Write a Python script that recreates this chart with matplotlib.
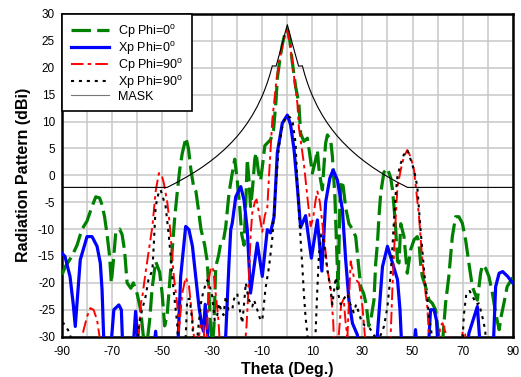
import matplotlib
matplotlib.use("Agg")
import matplotlib.pyplot as plt

plt.rcParams['font.family'] = ['Liberation Sans', 'DejaVu Sans']
plt.rcParams['lines.scale_dashes'] = False
plt.rcParams['axes.unicode_minus'] = False

# ---------------- data ----------------
cp0_theta = [-90, -88.7, -86, -84, -82, -80, -78, -76.5, -75, -74, -73, -72, -71, -70.3, -69.5,
             -68.5, -67, -66, -65, -64, -62.5, -61.5, -60, -58.6, -57.5, -56.5, -55, -54, -52.6,
             -51, -50, -49, -48, -47, -46, -45, -44, -43, -42, -40.5, -39.5, -38.5, -37.3, -36.5,
             -35.5, -34.5, -33, -32, -31.5, -30.6, -29.8, -29.3, -28.6, -27.5, -26.6, -25.5, -24.6,
             -23.3, -22, -21, -20, -19, -18.2, -17.3, -16.5, -16, -15.3, -14.7, -14, -13, -12.5,
             -11.5, -10.7, -10, -9, -8, -6.7, -5.5, -4.5, -4, -3, -2, -1, 0, 1, 2, 3.3, 4.6, 5.3,
             6.6, 8, 8.9, 10, 11.3, 12, 12.6, 13.3, 14, 14.6, 15.3, 16, 17.3, 18, 19, 19.8, 20.3,
             21, 21.5, 22.3, 23.3, 24.6, 26, 27.3, 28.3, 29.3, 30.5, 31.5, 32.5, 33.3, 34.6, 35.3,
             36, 36.6, 37.3, 38.6, 40, 41.3, 42, 42.6, 43.3, 44, 44.6, 45.3, 46.6, 47.9, 49.2, 50.6,
             51.9, 52.6, 53.2, 53.9, 55.2, 56.6, 57.9, 59.2, 60.5, 61.5, 62.5, 63.2, 64.5, 65.9, 67.2,
             68.5, 69.9, 71.2, 72.5, 73.9, 75.9, 77.2, 77.9, 79.2, 80.5, 81.9, 83.2, 84.6, 85.5, 86.5,
             87.8, 90]
cp0_db = [-18.5, -17, -15, -13, -10, -8.5, -5.8, -4, -4.2, -5.5, -7.7, -11, -15, -20, -16,
          -10.5, -10, -11, -14, -20, -21, -20, -22, -25, -30, -33, -27, -21, -16,
          -18, -22, -28, -26, -20, -14, -8, -3.3, 1, 4, 7, 5, 1, -2.5, -3,
          -6.4, -10, -13, -16, -20, -29, -31, -28, -17, -15, -12.6, -12, -9.6,
          -3.3, 0.4, 3, -1, -6, -11, -13, -4, 3, -1, -5.8, -3, 3, 4.2,
          0.5, -1, 1.5, 5.5, 6, 6.6, 8.5, 14, 18, 21.5, 24.3, 26.3, 27.2, 25, 21, 16.5, 13.4, 7.8,
          6.3, 6.9, 4.1, 0.4, 2.9, 4.7, 1.3, -0.9, -2.7, 1.6, 6, 7.5, 6.6, 3.5, -4, -15, -21,
          -5, -1, -2, -6, -9, -10, -11.4, -16, -20.7, -22, -24, -28, -27, -23.2, -16.3,
          -12.6, -7.7, -3.3, 0.6, 1.3, -0.5, -2.7, -5.8, -10.1, -16, -16.3, -9, -11.4, -18.2, -13.9, -12,
          -11.4, -12.6, -16.3, -18.8, -20.7, -23.2, -23.8, -25, -30, -34, -28, -23.8, -18.8, -11.4, -7.7,
          -7.7, -8.9, -12, -16.3, -20.7, -23.2, -18.2, -16.7, -17.3, -18.8, -21.9, -25.6, -28.7, -26, -23.8,
          -20.7, -19]

xp0_theta = [-90, -88.8, -86.8, -85.5, -84.7, -82.7, -80, -78, -76, -74.7, -74, -73, -71, -69.3,
             -67.3, -66.3, -65.5, -62, -60.6, -59, -54, -52.6, -51.5, -44, -42.6, -40.6, -39.3,
             -37.9, -36.6, -35.3, -34.3, -33.5, -32.8, -32, -31.5, -25.5, -24.6, -23.3, -22.6, -22,
             -20.6, -18.6, -17.3, -16, -14.7, -12, -10, -8, -6.7, -5.3, -4, -2, 0, 1.3, 2.7, 4,
             5.3, 7.3, 9.6, 12, 13.8, 15.3, 17, 18.3, 20, 22, 23.3, 24.6, 26, 28, 29, 35.3, 36, 38,
             40, 42, 44, 45, 46, 50, 51.2, 52.3, 56, 57.2, 58.6, 59.6, 60.5, 71.5, 72.5, 75.9, 77.5,
             82, 83.2, 84.6, 86, 88, 90]
xp0_db = [-14.5, -15.1, -18.8, -24, -28.1, -15.7, -11.4, -11.4, -13.2, -16.3, -21.3, -35, -35, -25,
          -24.1, -25, -35, -35, -25.3, -35, -35, -29, -35, -35, -18.8, -9.5, -10.1,
          -13.2, -18.8, -24.4, -27.5, -29, -24, -28, -35, -35, -29.7, -16.3, -10.1, -8.9,
          -4, -2.1, -4.6, -10.1, -21.9, -12.6, -18.8, -10.1, -10.7, -7.7, 4.2, 9.7, 11.2, 9.4, 4.7, -2.1,
          -9.7, -7.5, -15.4, -8.3, -17.8, -5, -0.5, 1, -0.9, -6.4, -15.7, -23.2, -27.5, -29.7, -35, -35, -29.4, -17,
          -13.2, -16.3, -19.4, -25, -35, -35, -28.7, -35, -35, -25, -25, -27, -35, -35, -29.4, -24.4, -35,
          -35, -20.7, -18.2, -17.9, -18.8, -20]

cp90_theta = [-90, -83, -81.5, -80, -78.7, -77.4, -76, -75, -74, -60, -58.6, -57.9, -56.6, -55.3,
              -53.9, -52.6, -51.3, -50.3, -49.3, -47.9, -47.3, -46.6, -46, -45.3, -44, -43.3, -42,
              -40.6, -39.3, -38.3, -37.3, -36.3, -35.3, -34.5, -33.5, -32.5, -31.4, -30.5, -29.6,
              -28.6, -27.5, -26.5, -17.5, -16.3, -15.5, -14.7, -14, -13, -12.3, -11.3, -10, -9, -8,
              -7.3, -6, -4.5, -3.4, -2, -1, 0, 1.3, 2.7, 4, 4.6, 5.3, 6.6, 7.3, 8, 9.3, 10.3, 11.3,
              12, 13, 14, 15, 16, 17.3, 18.3, 19, 20.5, 21.5, 22.5, 23.3, 24, 25.3, 26.6, 27.5, 28.6,
              30, 31, 32, 40.6, 41.3, 42, 42.6, 43.3, 44, 45.3, 46.6, 47.9, 49.2, 50.6, 51.6, 52.6,
              53.2, 53.9, 54.6, 55.2, 55.9, 56.6, 57.5, 60.3, 61, 62, 63, 64, 65, 69, 70, 71, 72, 90]
cp90_db = [-35, -35, -29, -26.3, -24.7, -25, -26.9, -30, -35, -35, -24, -22.5, -18, -13.9,
           -9.5, -3, 0.4, 0.2, -1.5, -5.2, -7.7, -11, -15.1, -19, -23.8, -29, -22,
           -19, -20.5, -25, -30, -35, -30, -27.5, -28, -35, -19.5, -17, -17.5,
           -22, -27, -35, -35, -28, -21, -11.4, -7, -5, -4.5, -7, -10.5, -7.5, -6,
           0, 10.3, 17, 20.8, 24, 26.3, 27, 23.5, 18.3, 13.4, 9, 6.6, 2.2, -0.9, -4, -9.5, -8, -4.6,
           -3, -5, -9, -13, -17.5, -21, -27, -35, -30, -24, -23, -27.5, -30, -16, -19, -19.5, -20,
           -24.4, -30, -35, -35, -29.4, -20.7, -14.5, -7.7, -2.1, 1, 3.5, 4.7, 3.5, 1, -3.3, -7.7,
           -11.4, -15.7, -18.8, -21.9, -24.4, -30, -35, -35, -28, -27.5, -29, -30, -35, -35, -29, -29.5, -35, -35]

xp90_theta = [-90, -89.4, -88, -86.7, -86, -60.5, -59.4, -58, -56.6, -55.5, -53.9, -53.3, -52.6,
              -51.3, -50.6, -48.6, -47.3, -46.6, -46, -45.3, -44.6, -44, -43.3, -41, -40, -39, -38,
              -37, -35.5, -34.6, -33.5, -32, -31, -30, -29, -28, -27.3, -26.5, -25.5, -24.6, -23.5,
              -22, -21.3, -20, -19, -18, -17.3, -16.6, -15.5, -14, -13.3, -12, -10.7, -10, -8.7,
              -7.3, -6, -4.6, -3.4, -2, -1, 0, 1, 2, 3.3, 4, 4.6, 5.3, 6, 6.6, 7.3, 8, 9, 10.5, 11.3,
              12, 12.6, 13.5, 14.2, 15, 16, 17.3, 18, 19.3, 20.3, 21.3, 22.5, 24, 25, 26.5, 27.5, 28.6,
              29.5, 31, 33, 35, 37, 38.6, 40, 41.3, 42, 42.6, 43.3, 44, 45.3, 46.5, 47.9, 49.2, 50.6,
              51.9, 52.6, 53.2, 53.9, 54.6, 55.2, 55.9, 56.6, 57.5, 58.5, 69.5, 70.5, 71.5, 72.8, 74,
              75.5, 76.5, 77.9, 79, 80, 90]
xp90_db = [-27.5, -27.5, -28.5, -29.4, -35, -35, -28, -25, -22.5, -19.5, -17.6, -12.6, -5.8,
           -3, -2.7, -5.8, -11.4, -15, -18.8, -22, -25, -27.5, -35, -35, -23, -23, -27,
           -35, -28, -24, -21.5, -19.5, -20.5, -22.5, -27, -26, -23.8, -25, -26, -22.5, -25,
           -25, -23, -22, -25, -27.5, -24, -20, -23, -24.4, -23.2, -25, -27, -26.9, -21,
           -17, -11.7, -2, 5.3, 9, 10.5, 11, 10.8, 10.3, 6, -1.5, -6.4, -12, -17, -21.9, -26.5, -29.5, -35, -35, -29,
           -21, -15, -11, -11.5, -14, -17.6, -21.3, -24, -19, -22, -24, -23, -22, -23.8, -25.5, -24, -25.6,
           -27, -28, -28.5, -30, -30, -28.1, -24.4, -18.2, -13.2, -8.3, -3.3, -0.2, 2.2, 3.8, 4.7, 3, 1,
           -2.1, -6.4, -10.1, -13.9, -17.6, -20.7, -23, -26.3, -29, -35, -35, -26, -22, -21.5, -22.5,
           -24, -23.8, -26.3, -28.7, -35, -35]

mask_theta = [-90, -48, -44, -40, -37, -34, -31, -28, -25, -22, -20, -18, -16, -14, -12, -10,
              -9, -8, -7, -6, -4.5, -3, -2, -1, 0, 1, 2, 3, 4.5, 6, 7, 8, 9, 10, 12, 14, 16,
              18, 20, 22, 25, 28, 31, 34, 37, 40, 44, 48, 90]
mask_db = [-2.25, -2.25, -1.29, -0.25, 0.6, 1.51, 2.52, 3.62, 4.85, 6.24, 7.27, 8.42, 9.7, 11.15,
           12.82, 14.8, 15.94, 17.22, 18.67, 20.35, 20.3, 22.8, 24.5, 26.3, 28, 26.3, 24.5, 22.8,
           20.3, 20.35, 18.67, 17.22, 15.94, 14.8, 12.82, 11.15, 9.7, 8.42, 7.27, 6.24, 4.85,
           3.62, 2.52, 1.51, 0.6, -0.25, -1.29, -2.25, -2.25]

x_ticks = [-90, -70, -50, -30, -10, 10, 30, 50, 70, 90]
y_ticks = [30, 25, 20, 15, 10, 5, 0, -5, -10, -15, -20, -25, -30]

deg = r'$^\mathregular{o}$'
labels = ['Cp Phi=0' + deg, 'Xp Phi=0' + deg, 'Cp Phi=90' + deg, 'Xp Phi=90' + deg, 'MASK']

# ---------------- figure ----------------
fig = plt.figure(figsize=(5.21, 3.77), dpi=100)
ax = fig.add_axes([0.119, 0.107, 0.865, 0.856])

ax.plot(cp0_theta, cp0_db, color='#008000', lw=2.3, linestyle=(0, (14, 4.5)),
        label=labels[0], zorder=3)
ax.plot(xp0_theta, xp0_db, color='#0000ff', lw=2.3, linestyle='-', label=labels[1], zorder=4)
ax.plot(cp90_theta, cp90_db, color='#ff0000', lw=1.4, linestyle=(0, (9, 3, 2.5, 3)),
        label=labels[2], zorder=5)
ax.plot(xp90_theta, xp90_db, color='#000000', lw=1.5, linestyle=(0, (2.2, 3.5)),
        label=labels[3], zorder=6)
ax.plot(mask_theta, mask_db, color='#000000', lw=0.8, label=labels[4], zorder=7)

ax.set_xlim(-90, 90)
ax.set_ylim(-30, 30)
ax.set_xticks(x_ticks)
ax.set_xticks(list(range(-80, 90, 20)), minor=True)
ax.set_yticks(y_ticks)
ax.grid(True, which='both', color='#c8c8c8', lw=1.1, zorder=0)
ax.set_axisbelow(True)
ax.tick_params(which='both', length=0, labelsize=8.5)
ax.tick_params(axis='x', pad=7)
ax.tick_params(axis='y', pad=5)
for s in ax.spines.values():
    s.set_linewidth(1.8)

ax.set_xlabel('Theta (Deg.)', fontsize=11.5, fontweight='bold', labelpad=2.5)
ax.set_ylabel('Radiation Pattern (dBi)', fontsize=11.5, fontweight='bold', labelpad=5)

leg = ax.legend(loc='upper left', fontsize=9, fancybox=False, framealpha=1,
                edgecolor='black', borderaxespad=0, handlelength=3.1, labelspacing=0.0,
                handletextpad=0.7, borderpad=0.7)
leg.get_frame().set_linewidth(1.2)
leg.legend_handles[4].set_color('#777777')

fig.savefig('out.png', dpi=100)
